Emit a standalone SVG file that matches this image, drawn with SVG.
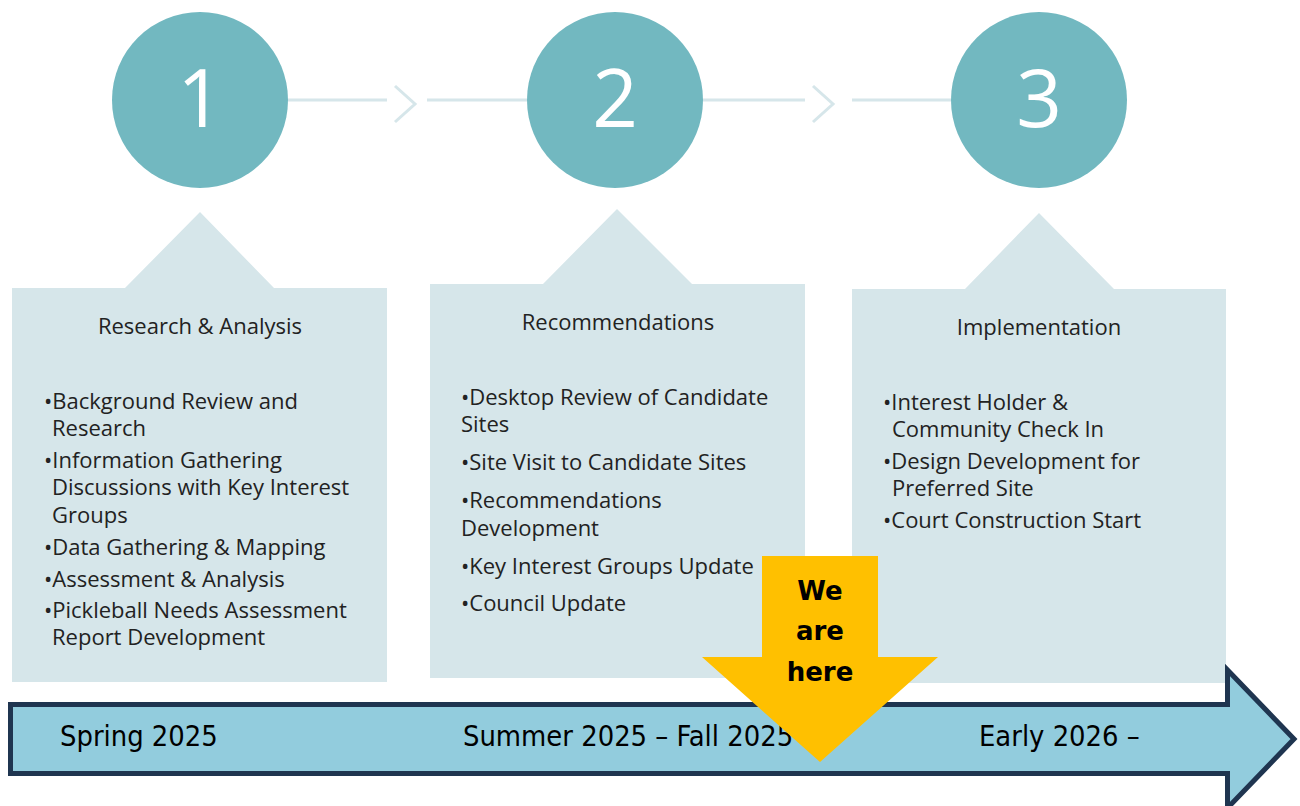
<svg xmlns="http://www.w3.org/2000/svg" width="1300" height="806" viewBox="0 0 1300 806">
  <style>
    .step { fill: #72B8C0; }
    .num { fill: #FFFFFF; font-family: "Open Sans", "DejaVu Sans", sans-serif; font-size: 80px; text-anchor: middle; }
    .panel { fill: #D6E6EA; }
    .title { fill: #222222; font-family: "Open Sans", "DejaVu Sans", sans-serif; font-size: 22px; text-anchor: middle; }
    .item { fill: #222222; font-family: "Open Sans", "DejaVu Sans", sans-serif; font-size: 22px; }
    .link { stroke: #D6E6EA; stroke-width: 3; fill: none; }
    .period { fill: #000000; font-family: "DejaVu Sans Condensed", "DejaVu Sans", sans-serif; font-stretch: condensed; font-size: 28.8px; }
    .here { fill: #000000; font-family: "DejaVu Sans", sans-serif; font-weight: bold; font-size: 26px; text-anchor: middle; }
  </style>

  <!-- connectors between the numbered steps -->
  <g id="connectors">
    <line class="link" x1="288" y1="100" x2="387" y2="100"/>
    <polyline class="link" points="395,86 415,104 395,122"/>
    <line class="link" x1="427" y1="100" x2="527" y2="100"/>
    <line class="link" x1="703" y1="100" x2="805" y2="100"/>
    <polyline class="link" points="813,86 833,104 813,122"/>
    <line class="link" x1="852" y1="100" x2="951" y2="100"/>
  </g>

  <!-- step 1 -->
  <g id="step1">
    <circle class="step" cx="200" cy="100" r="88"/>
    <text class="num" x="200" y="127">1</text>
  </g>
  <g id="panel1">
    <path class="panel" d="M12,288 H125 L200,212 L274,288 H387 V682 H12 Z"/>
    <text class="title" x="200" y="334">Research &amp; Analysis</text>
    <text class="item" x="44" y="409">•Background Review and</text>
    <text class="item" x="52" y="436">Research</text>
    <text class="item" x="44" y="468">•Information Gathering</text>
    <text class="item" x="52" y="495">Discussions with Key Interest</text>
    <text class="item" x="52" y="523">Groups</text>
    <text class="item" x="44" y="555">•Data Gathering &amp; Mapping</text>
    <text class="item" x="44" y="587">•Assessment &amp; Analysis</text>
    <text class="item" x="44" y="618">•Pickleball Needs Assessment</text>
    <text class="item" x="52" y="645">Report Development</text>
  </g>

  <!-- step 2 -->
  <g id="step2">
    <circle class="step" cx="615" cy="100" r="88"/>
    <text class="num" x="615" y="127">2</text>
  </g>
  <g id="panel2">
    <path class="panel" d="M430,284 H543 L617,209 L692,284 H805 V678 H430 Z"/>
    <text class="title" x="618" y="330">Recommendations</text>
    <text class="item" x="461" y="405">•Desktop Review of Candidate</text>
    <text class="item" x="461" y="432">Sites</text>
    <text class="item" x="461" y="470">•Site Visit to Candidate Sites</text>
    <text class="item" x="461" y="508">•Recommendations</text>
    <text class="item" x="461" y="536">Development</text>
    <text class="item" x="461" y="574">•Key Interest Groups Update</text>
    <text class="item" x="461" y="611">•Council Update</text>
  </g>

  <!-- step 3 -->
  <g id="step3">
    <circle class="step" cx="1039" cy="100" r="88"/>
    <text class="num" x="1039" y="127">3</text>
  </g>
  <g id="panel3">
    <path class="panel" d="M852,289 H965 L1039,213 L1114,289 H1226 V683 H852 Z"/>
    <text class="title" x="1039" y="335">Implementation</text>
    <text class="item" x="883" y="410">•Interest Holder &amp;</text>
    <text class="item" x="892" y="437">Community Check In</text>
    <text class="item" x="883" y="469">•Design Development for</text>
    <text class="item" x="892" y="496">Preferred Site</text>
    <text class="item" x="883" y="528">•Court Construction Start</text>
  </g>

  <!-- timeline arrow -->
  <g id="timeline">
    <path d="M10.5,704.5 H1227.5 V670 L1294,739 L1227.5,808 V773.5 H10.5 Z" fill="#92CCDD" stroke="#1F3550" stroke-width="5" stroke-linejoin="miter"/>
    <text class="period" x="60" y="746">Spring 2025</text>
    <text class="period" x="463" y="746">Summer 2025 – Fall 2025</text>
    <text class="period" x="979" y="746">Early 2026 –</text>
  </g>

  <!-- current position marker -->
  <g id="marker">
    <path d="M762,556 H878 V657 H938 L820,762 L702,657 H762 Z" fill="#FFC000"/>
    <text class="here" x="820" y="600">We</text>
    <text class="here" x="820" y="640">are</text>
    <text class="here" x="820" y="681">here</text>
  </g>
</svg>
